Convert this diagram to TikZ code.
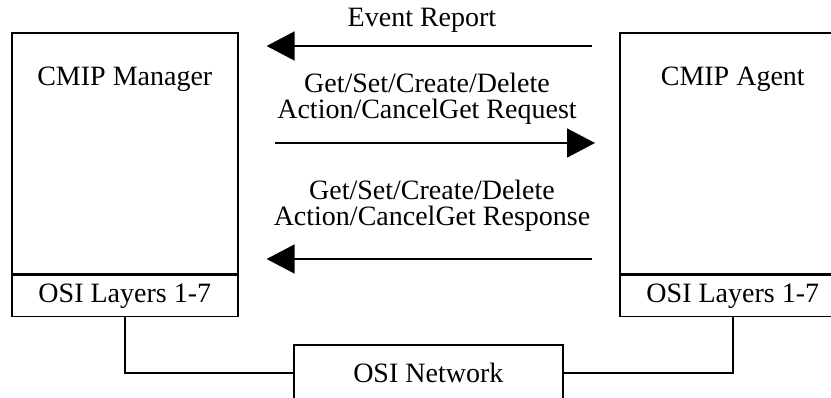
\documentclass[tikz,border=0pt]{standalone}
\usepackage{fontspec}
\setmainfont{Liberation Serif}
\usetikzlibrary{arrows.meta, positioning}

\begin{document}
\begin{tikzpicture}[x=1pt, y=-1pt, node distance=0pt,
        box/.style = {draw, line width=1.6pt, minimum width=226pt, inner sep=0pt},
        lbl/.style = {font=\fontsize{28}{26}\selectfont, align=center, inner sep=0pt},
        wire/.style = {line width=1.6pt},
        msg/.style = {line width=1.6pt, -{Triangle[length=28pt, width=29pt]}} ]

\useasboundingbox (0,0) rectangle (831,398);
\clip (0,0) rectangle (831,398);

% the two stacks
\node (mgr)      [box, minimum height=241pt, anchor=north west] at (11,32) {};
\node (mgrosi)   [box, lbl, minimum height=41pt, below=of mgr] {OSI Layers 1-7};
\node (mgrname)  [lbl, below=35pt of mgr.north] {CMIP Manager};

\node (agent)    [box, minimum height=241pt, anchor=north west] at (619,32) {};
\node (agentosi) [box, lbl, minimum height=41pt, below=of agent] {OSI Layers 1-7};
\node (agentname)[lbl, below=35pt of agent.north] {CMIP Agent};

\node (net) [box, lbl, minimum width=269pt, minimum height=56pt,
             anchor=north west] at (293,344) {OSI Network};

\draw[wire] (mgrosi.south) |- (net.west);
\draw[wire] (agentosi.south) |- (net.east);

% messages
\node (ev)  [lbl, anchor=base] at (422,27) {Event Report};
\node (req) [lbl, anchor=north] at (427,73) {Get/Set/Create/Delete\\Action/CancelGet Request};
\node (rsp) [lbl, anchor=north] at (432,180) {Get/Set/Create/Delete\\Action/CancelGet Response};

\draw[msg, shorten <=27pt, shorten >=28pt]
    ([yshift=-14pt]agent.north west) -- ([yshift=-14pt]mgr.north east);
\draw[msg, shorten <=36pt, shorten >=24pt]
    ([yshift=-111pt]mgr.north east) -- ([yshift=-111pt]agent.north west);
\draw[msg, shorten <=27pt, shorten >=28pt]
    ([yshift=-227pt]agent.north west) -- ([yshift=-227pt]mgr.north east);
\end{tikzpicture}
\end{document}
